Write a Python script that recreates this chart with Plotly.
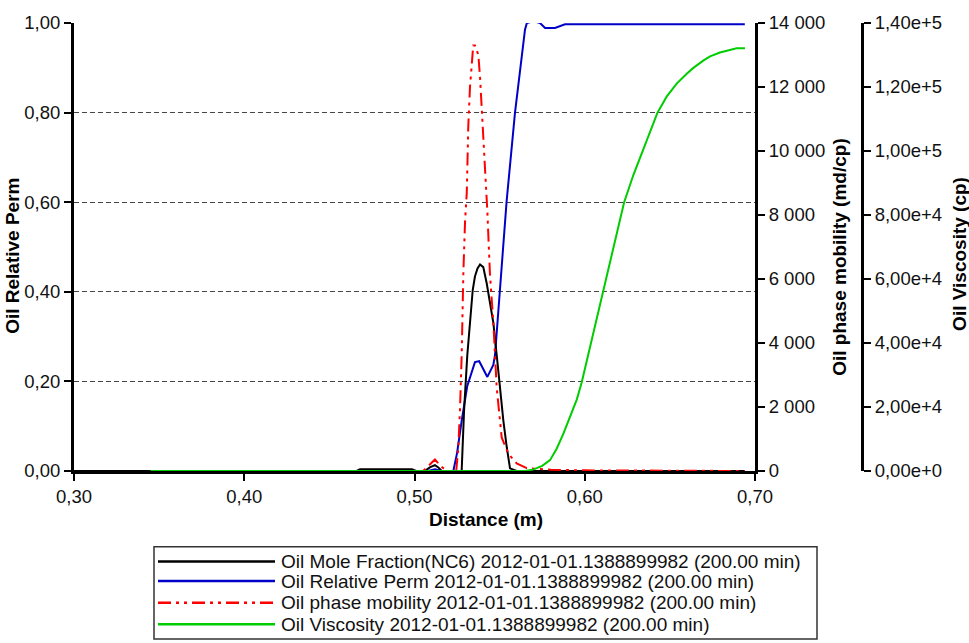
import plotly.graph_objects as go

# ---- data -------------------------------------------------------------
series_names = [
    "Oil Mole Fraction(NC6) 2012-01-01.1388899982 (200.00 min)",
    "Oil Relative Perm 2012-01-01.1388899982 (200.00 min)",
    "Oil phase mobility 2012-01-01.1388899982 (200.00 min)",
    "Oil Viscosity 2012-01-01.1388899982 (200.00 min)",
]

mole_x = [0.300, 0.345, 0.400, 0.466, 0.468, 0.4985, 0.501, 0.506, 0.509, 0.512,
          0.514, 0.516, 0.520, 0.5277, 0.5291, 0.5310, 0.5326, 0.5342, 0.5355,
          0.5370, 0.5385, 0.5404, 0.5424, 0.5443, 0.5463, 0.5483, 0.5502,
          0.5522, 0.5542, 0.5561, 0.560, 0.600, 0.650, 0.694]
mole_y = [0.0, 0.0, 0.0, 0.0, 0.004, 0.004, 0.0, 0.0, 0.008, 0.013,
          0.008, 0.0, 0.0, 0.0, 0.134, 0.258, 0.331, 0.404, 0.434,
          0.452, 0.461, 0.455, 0.419, 0.375, 0.331, 0.258, 0.185,
          0.112, 0.053, 0.006, 0.0, 0.0, 0.0, 0.0]

relperm_x = [0.300, 0.508, 0.512, 0.516, 0.5228, 0.5250, 0.5277, 0.5310, 0.5355,
             0.5380, 0.5428, 0.5463, 0.5473, 0.5502, 0.5541, 0.5590, 0.5649, 0.5660,
             0.5700, 0.5737, 0.5767, 0.5825, 0.5884, 0.5950, 0.650, 0.694]
relperm_y = [0.0, 0.0, 0.004, 0.0, 0.0, 0.04, 0.112, 0.19, 0.243,
             0.245, 0.21, 0.237, 0.259, 0.404, 0.602, 0.799, 0.985, 1.0,
             1.004, 1.0, 0.989, 0.989, 0.997, 0.997, 0.997, 0.997]

mobility_x = [0.470, 0.505, 0.508, 0.512, 0.5155, 0.519, 0.5245, 0.5257, 0.5267,
              0.5277, 0.5287, 0.5297, 0.5307, 0.5316, 0.5326, 0.5336, 0.5345,
              0.5355, 0.5365, 0.5375, 0.5385, 0.5395, 0.5414, 0.5428, 0.5443,
              0.5463, 0.5483, 0.5512, 0.5551, 0.5600, 0.5659, 0.580, 0.600, 0.694]
mobility_y = [0, 0, 150, 360, 150, 0, 0, 700, 1900,
              3600, 6200, 7800, 8700, 10800, 12000, 12800, 13300,
              13300, 13150, 13000, 12300, 11300, 9760, 8100, 6170,
              4640, 2590, 1050, 540, 240, 90, 40, 20, 0]

visc_x = [0.345, 0.5650, 0.5700, 0.5750, 0.5796, 0.5835, 0.5874, 0.5913, 0.5953,
          0.5982, 0.6011, 0.6050, 0.6109, 0.6168, 0.6231, 0.6285, 0.6344, 0.6383,
          0.6426, 0.6481, 0.6540, 0.6599, 0.6638, 0.6696, 0.6736, 0.6794, 0.6853,
          0.6892, 0.6941]
visc_y = [0, 0, 500, 1600, 3380, 6960, 11570, 16680, 22310,
          27630, 34080, 42780, 55880, 69390, 83910, 92410, 100610, 105920,
          111850, 116980, 121060, 124130, 125970, 128240, 129560, 130790, 131610,
          132110, 132110]

left_ticks = [0.0, 0.2, 0.4, 0.6, 0.8, 1.0]
grid_values = [0.2, 0.4, 0.6, 0.8]
x_ticks = [0.30, 0.40, 0.50, 0.60, 0.70]

colors = ["#000000", "#0000C8", "#FF0000", "#00CC00"]
dashes = ["solid", "solid", "13px,5px,3px,5px,3px,5px", "solid"]

# ---- layout geometry (pixels) ------------------------------------------
W, H = 969, 643
ML, MR, MT, MB = 74, 107, 15, 172
PW, PH = W - ML - MR, H - MT - MB
X_AXIS_RIGHT = 755


def px_x(p):
    return (p - ML) / PW


def px_y(p):
    return (H - MB - p) / PH


FONT = "Liberation Sans, Arial, sans-serif"
tick_font = dict(family=FONT, size=18.5, color="#111111")
title_font = dict(family=FONT, size=19, color="#000000")

fig = go.Figure()

# relative perm first so the mole-fraction line sits on top of it
fig.add_trace(go.Scatter(x=relperm_x, y=relperm_y, mode="lines", name=series_names[1],
                         line=dict(color=colors[1], width=2), yaxis="y"))
fig.add_trace(go.Scatter(x=mole_x, y=mole_y, mode="lines", name=series_names[0],
                         line=dict(color=colors[0], width=2), yaxis="y"))
fig.add_trace(go.Scatter(x=mobility_x, y=mobility_y, mode="lines", name=series_names[2],
                         line=dict(color=colors[2], width=2, dash=dashes[2]), yaxis="y2"))
fig.add_trace(go.Scatter(x=visc_x, y=visc_y, mode="lines", name=series_names[3],
                         line=dict(color=colors[3], width=2), yaxis="y3"))

axis_common = dict(showline=True, linecolor="#000000", linewidth=3,
                   ticks="outside", ticklen=7, tickwidth=2, tickcolor="#000000",
                   tickfont=tick_font, zeroline=False, showgrid=False)

fig.update_layout(
    width=W, height=H,
    margin=dict(l=ML, r=MR, t=MT, b=MB),
    paper_bgcolor="white", plot_bgcolor="white",
    separators=", ",
    showlegend=False,
    xaxis=dict(domain=[0, px_x(X_AXIS_RIGHT)], range=[0.30, 0.70],
               tickvals=x_ticks, tickformat=".2f", anchor="y", **axis_common),
    yaxis=dict(range=[0, 1], tickvals=left_ticks, tickformat=".2f",
               anchor="x", **axis_common),
    yaxis2=dict(range=[0, 14000], dtick=2000, tickformat=",", overlaying="y",
                side="right", anchor="x", **axis_common),
    yaxis3=dict(range=[0, 140000], dtick=20000, tickformat=".2e", overlaying="y",
                side="right", anchor="free", position=1.0, **axis_common),
    yaxis4=dict(range=[0, 1], tickvals=grid_values, overlaying="y", showgrid=True,
                gridcolor="#444444", gridwidth=1, griddash="5px,3px",
                showticklabels=False, ticks="", showline=False, zeroline=False),
)
# helper trace so the grid axis is drawn
fig.add_trace(go.Scatter(x=[None], y=[None], yaxis="y4", showlegend=False,
                         hoverinfo="skip"))

# ---- axis titles ---------------------------------------------------------
titles = [
    ("Distance (m)", 486, 520, 0),
    ("Oil Relative Perm", 13, 252, -90),
    ("Oil phase mobility (md/cp)", 840, 253, -90),
    ("Oil Viscosity (cp)", 960, 250, -90),
]
for text, tx, ty, ang in titles:
    fig.add_annotation(text="<b>%s</b>" % text, x=px_x(tx), y=px_y(ty),
                       xref="paper", yref="paper", showarrow=False,
                       textangle=ang, font=title_font,
                       xanchor="center", yanchor="middle")

# ---- legend box ------------------------------------------------------------
fig.add_shape(type="rect", xref="paper", yref="paper",
              x0=px_x(154), x1=px_x(817), y0=px_y(642), y1=px_y(548),
              line=dict(color="#333333", width=1.5), fillcolor="white")
rows = [563, 583, 605, 627]
for name, col, dsh, ry in zip(series_names, colors, dashes, rows):
    fig.add_shape(type="line", xref="paper", yref="paper",
                  x0=px_x(158), x1=px_x(275), y0=px_y(ry), y1=px_y(ry),
                  line=dict(color=col, width=2.5, dash=dsh))
    fig.add_annotation(text=name, x=px_x(279), y=px_y(ry), xref="paper", yref="paper",
                       showarrow=False, xanchor="left", yanchor="middle",
                       font=dict(family=FONT, size=19, color="#111111"))

fig.write_html("out.html")
